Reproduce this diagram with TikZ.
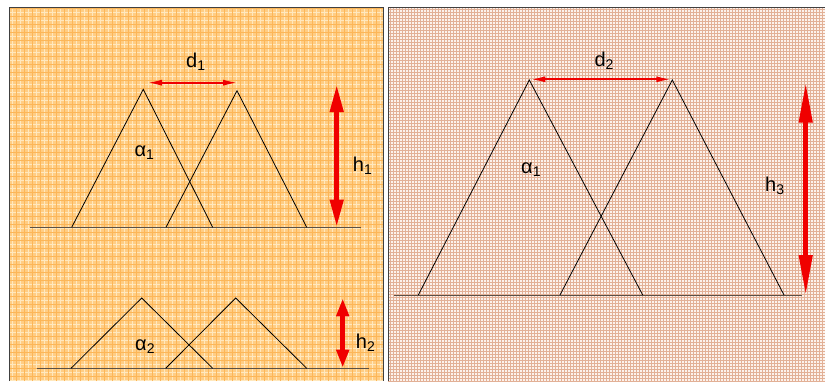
\documentclass[tikz,border=0pt]{standalone}
\usepackage{fontspec}
\setmainfont{Liberation Sans}
\usetikzlibrary{arrows.meta}
\definecolor{lbg}{RGB}{255,205,132}
\definecolor{lgridA}{RGB}{255,232,190}
\definecolor{lgridB}{RGB}{252,182,88}
\definecolor{rbg}{RGB}{252,242,236}
\definecolor{rgridA}{RGB}{226,176,150}
\definecolor{basegray}{RGB}{90,80,70}
\definecolor{arrred}{RGB}{240,0,0}
\tikzset{
  tri/.style={black, line width=0.8pt},
  baseln/.style={basegray, line width=1pt},
  lbl/.style={anchor=base west, inner sep=0pt, font=\fontsize{20}{20}\selectfont},
  darrow/.style={arrred, line width=2.2pt, {Latex[length=16pt,width=6pt]}-{Latex[length=16pt,width=6pt]}},
  harrow/.style={arrred, line width=4.5pt},
  panelborder/.style={draw=black!75, line width=1pt},
}
\begin{document}
\begin{tikzpicture}[x=1pt,y=-1pt]
\useasboundingbox (0,0) rectangle (825,381);
\fill[white] (0,0) rectangle (825,381);
% left panel background
\fill[lbg] (9,7) rectangle (383,381);
\draw[lgridA, line width=0.8pt, step=4pt] (9,7) grid (383,381);
\draw[lgridB, line width=0.6pt, step=8pt] (9,7) grid (383,381);
\draw[panelborder] (9,381) -- (9,7) -- (383,7) -- (383,381);
% right panel background
\fill[rbg] (388,7) rectangle (825,381);
\draw[rgridA, line width=0.8pt, step=3pt] (388,7) grid (825,381);
\draw[panelborder] (388,381) -- (388,7) -- (825,7);

% ---- left top ----
\coordinate (B1s) at (30,227.3);
\coordinate (B1e) at (361,227.3);
\draw[baseln] (B1s) -- (B1e);
\coordinate (T1a) at (71.7,227.3);
\coordinate (T1p) at (143.3,89.3);
\coordinate (T1b) at (212.7,227.3);
\coordinate (T2a) at (166,227.3);
\coordinate (T2p) at (237,90.7);
\coordinate (T2b) at (306.7,227.3);
\draw[tri] (T1a) -- (T1p) -- (T1b);
\draw[tri] (T2a) -- (T2p) -- (T2b);
\coordinate (D1l) at (146,82.7);
\coordinate (D1r) at (239,82.7);
\draw[darrow] (D1l) -- (D1r);
\coordinate (H1t) at (336.7,85);
\coordinate (H1b) at (336.7,226.7);
\draw[harrow, {Triangle[length=27pt,width=13pt]}-{Triangle[length=27pt,width=13pt]}] (H1t) -- (H1b);
\node[lbl] (d1) at (186,67.7) {d\textsubscript{1}};
\node[lbl] (a1) at (134.3,156.7) {α\textsubscript{1}};
\node[lbl] (h1) at (352.7,171.7) {h\textsubscript{1}};

% ---- left bottom ----
\coordinate (B2s) at (37.3,368.3);
\coordinate (B2e) at (369,368.3);
\draw[baseln] (B2s) -- (B2e);
\coordinate (U1a) at (71,368.3);
\coordinate (U1p) at (141.7,298);
\coordinate (U1b) at (212.7,368.3);
\coordinate (U2a) at (165.7,368.3);
\coordinate (U2p) at (235.7,298);
\coordinate (U2b) at (306.7,368.3);
\draw[tri] (U1a) -- (U1p) -- (U1b);
\draw[tri] (U2a) -- (U2p) -- (U2b);
\coordinate (H2t) at (342.7,298.3);
\coordinate (H2b) at (342.7,367.7);
\draw[harrow, {Triangle[length=18pt,width=12pt]}-{Triangle[length=18pt,width=12pt]}] (H2t) -- (H2b);
\node[lbl] (a2) at (135,350) {α\textsubscript{2}};
\node[lbl] (h2) at (355.7,348.3) {h\textsubscript{2}};

% ---- right ----
\coordinate (B3s) at (394.3,295);
\coordinate (B3e) at (801.7,295);
\draw[baseln] (B3s) -- (B3e);
\coordinate (V1a) at (418.3,295);
\coordinate (V1p) at (529.3,80);
\coordinate (V1b) at (642.7,295);
\coordinate (V2a) at (560,295);
\coordinate (V2p) at (672.3,80);
\coordinate (V2b) at (784,295);
\draw[tri] (V1a) -- (V1p) -- (V1b);
\draw[tri] (V2a) -- (V2p) -- (V2b);
\coordinate (D2l) at (529.3,79.3);
\coordinate (D2r) at (672.3,79.3);
\draw[darrow] (D2l) -- (D2r);
\coordinate (H3t) at (805.7,82.7);
\coordinate (H3b) at (805.7,295);
\draw[harrow, {Triangle[length=40pt,width=13pt]}-{Triangle[length=40pt,width=13pt]}] (H3t) -- (H3b);
\node[lbl] (d2) at (594.3,66.7) {d\textsubscript{2}};
\node[lbl] (a3) at (521,173.3) {α\textsubscript{1}};
\node[lbl] (h3) at (765,191.7) {h\textsubscript{3}};
\end{tikzpicture}
\end{document}
